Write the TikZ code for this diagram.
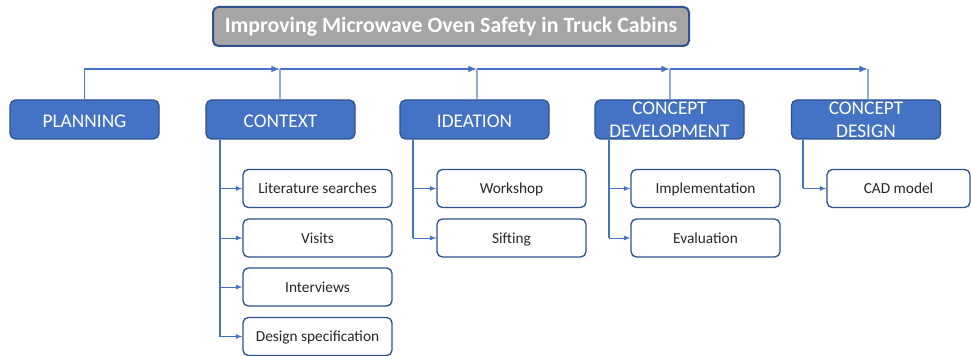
\documentclass[tikz,border=0pt]{standalone}
\usepackage{fontspec}
\setmainfont{Carlito}
\usetikzlibrary{calc,positioning,arrows}
\definecolor{boxblue}{HTML}{4472C4}
\definecolor{edgeblue}{HTML}{2F528F}
\definecolor{titlegray}{HTML}{A5A5A5}
\tikzset{
	titlebox/.style={draw=edgeblue, line width=1.5pt, fill=titlegray, rounded corners=4pt, text=white,
		font=\fontsize{16.4}{19}\selectfont\bfseries, minimum width=357pt, minimum height=29.25pt, inner sep=0pt},
	phase/.style={draw=edgeblue, line width=0.9pt, fill=boxblue, rounded corners=4pt, text=white,
		font=\fontsize{14.5}{17}\selectfont, minimum width=111.75pt, minimum height=29.25pt, inner sep=0pt, align=center},
	oneline/.style={text height=12.6pt, text depth=0pt},
	task/.style={draw=edgeblue, line width=1pt, fill=white, rounded corners=4pt, text=black!85,
		font=\fontsize{11.5}{14}\selectfont, minimum width=111.75pt, minimum height=28.5pt, inner sep=0pt,
		text height=8.2pt, text depth=0pt},
	topline/.style={boxblue, line width=1.2pt},
	drop/.style={boxblue!60, line width=0.8pt},
	trunk/.style={boxblue, line width=1.4pt},
	branch/.style={boxblue, line width=0.7pt, -latex},
}
\begin{document}
\begin{tikzpicture}[x=0.75pt,y=-0.75pt]
		\useasboundingbox (0,0) rectangle (971,356);
		% title and phases
		\node[titlebox] (title) at (451,26.5) {Improving Microwave Oven Safety in Truck Cabins};
		\node[phase, oneline] (plan) at (84.5,119.5) {PLANNING};
		\node[phase, oneline] (ctx)  at (280.5,119.5) {CONTEXT};
		\node[phase, oneline] (idea) at (474.5,119.5) {IDEATION};
		\node[phase] (cdev) at (669.5,119.5) {CONCEPT\\DEVELOPMENT};
		\node[phase] (cdes) at (866,119.5) {CONCEPT\\DESIGN};
		% tasks
		\node[task] (lit)  at (317.5,188.5) {Literature searches};
		\node[task] (vis)  at (317.5,238) {Visits};
		\node[task] (intv) at (317.5,287) {Interviews};
		\node[task] (spec) at (317.5,336.5) {Design specification};
		\node[task] (work) at (511.5,188.5) {Workshop};
		\node[task] (sift) at (511.5,238) {Sifting};
		\node[task] (impl) at (705.5,188.5) {Implementation};
		\node[task] (eval) at (705.5,238) {Evaluation};
		\node[task, minimum width=107.25pt] (cad) at (898.5,188.5) {CAD model};
		% top line
		\coordinate (jctx)  at (280,69);
		\coordinate (jidea) at (477,69);
		\coordinate (jcdev) at (670,69);
		\coordinate (jcdes) at (868,69);
		\draw[topline, -latex] (plan.north) |- (jctx);
		\draw[topline, -latex] (jctx) -- (jidea);
		\draw[topline, -latex] (jidea) -- (jcdev);
		\draw[topline, -latex] (jcdev) -- (jcdes);
		\draw[drop] (jctx) -- (jctx |- ctx.north);
		\draw[drop] (jidea) -- (jidea |- idea.north);
		\draw[drop] (jcdev) -- (jcdev |- cdev.north);
		\draw[drop] (jcdes) -- (jcdes |- cdes.north);
		% trunks
		\coordinate (tctx)  at ($(ctx.south west)+(15,0)$);
		\coordinate (tidea) at ($(idea.south west)+(14,0)$);
		\coordinate (tcdev) at ($(cdev.south west)+(15,0)$);
		\coordinate (tcdes) at ($(cdes.south west)+(12,0)$);
		\draw[trunk] (tctx) -- (tctx |- spec.west);
		\draw[trunk] (tidea) -- (tidea |- sift.west);
		\draw[trunk] (tcdev) -- (tcdev |- eval.west);
		\draw[trunk] (tcdes) -- (tcdes |- cad.west);
		% branches
		\draw[branch] (tctx |- lit.west) -- (lit.west);
		\draw[branch] (tctx |- vis.west) -- (vis.west);
		\draw[branch] (tctx |- intv.west) -- (intv.west);
		\draw[branch] (tctx |- spec.west) -- (spec.west);
		\draw[branch] (tidea |- work.west) -- (work.west);
		\draw[branch] (tidea |- sift.west) -- (sift.west);
		\draw[branch] (tcdev |- impl.west) -- (impl.west);
		\draw[branch] (tcdev |- eval.west) -- (eval.west);
		\draw[branch] (tcdes |- cad.west) -- (cad.west);
\end{tikzpicture}
\end{document}
